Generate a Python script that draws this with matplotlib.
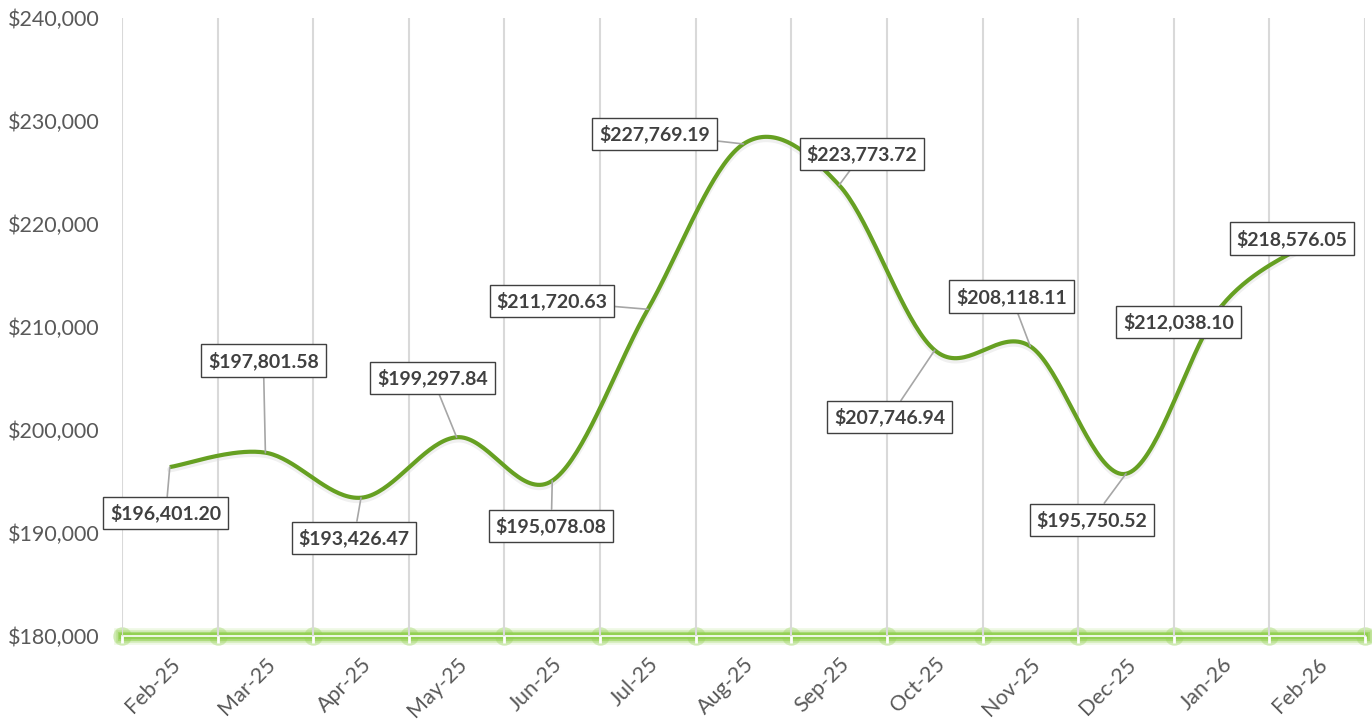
import numpy as np
import matplotlib.pyplot as plt
from matplotlib.ticker import FuncFormatter, FixedLocator

months = ["Feb-25", "Mar-25", "Apr-25", "May-25", "Jun-25", "Jul-25", "Aug-25",
          "Sep-25", "Oct-25", "Nov-25", "Dec-25", "Jan-26", "Feb-26"]
values = [196401.20, 197801.58, 193426.47, 199297.84, 195078.08, 211720.63, 227769.19,
          223773.72, 207746.94, 208118.11, 195750.52, 212038.10, 218576.05]
# label box offsets (pixels) from each point
label_offsets = [(-4, -46), (-2, 92), (-7, -40), (-24, 59), (-1, -45), (-96, 8), (-89, 10),
                 (23, 31), (-45, -67), (-19, 50), (-34, -46), (-43, -16), (-25, 0)]

plt.rcParams["font.family"] = ["Lato", "DejaVu Sans"]

x = np.arange(len(values), dtype=float)
y = np.array(values)


def smooth(x, y, n=40):
    # excel-like smoothed line (catmull-rom bezier)
    px = np.concatenate([[x[0]], x, [x[-1]]])
    py = np.concatenate([[y[0]], y, [y[-1]]])
    xs, ys = [], []
    t = np.linspace(0, 1, n)
    for i in range(1, len(px) - 2):
        p0 = np.array([px[i], py[i]])
        p3 = np.array([px[i + 1], py[i + 1]])
        p1 = p0 + (np.array([px[i + 1], py[i + 1]]) - np.array([px[i - 1], py[i - 1]])) / 6
        p2 = p3 - (np.array([px[i + 2], py[i + 2]]) - np.array([px[i], py[i]])) / 6
        b = ((1 - t) ** 3)[:, None] * p0 + (3 * (1 - t) ** 2 * t)[:, None] * p1 \
            + (3 * (1 - t) * t ** 2)[:, None] * p2 + (t ** 3)[:, None] * p3
        xs.append(b[:, 0])
        ys.append(b[:, 1])
    return np.concatenate(xs), np.concatenate(ys)


fig = plt.figure(figsize=(13.72, 7.19), dpi=100)
ax = fig.add_axes([0.0889, 0.1154, 0.906, 0.8596])

sx, sy = smooth(x, y)
ax.plot(sx, sy - 250, color="#000000", lw=4, alpha=0.06, solid_capstyle="round", zorder=3)
ax.plot(sx, sy, color="#66A022", lw=3, solid_capstyle="butt", zorder=4)

ax.set_xlim(-0.5, len(values) - 0.5)
ax.set_ylim(180000, 240000)

bounds = np.arange(len(values) + 1) - 0.5
ax.xaxis.set_major_locator(FixedLocator(bounds))
ax.xaxis.set_minor_locator(FixedLocator(x))
ax.set_xticklabels([""] * len(bounds))
ax.set_xticklabels(months, minor=True, rotation=45, ha="right", va="top",
                   rotation_mode="anchor", fontsize=15.5, color="#595959")
ax.tick_params(axis="x", which="minor", length=0, pad=13)
ax.tick_params(axis="x", which="major", length=5, width=2, color="white", direction="out")
ax.grid(axis="x", which="major", color="#d9d9d9", lw=1.5)

ax.set_yticks(np.arange(180000, 240001, 10000))
ax.yaxis.set_major_formatter(FuncFormatter(lambda v, p: f"${v:,.0f}"))
ax.tick_params(axis="y", length=0, pad=16, labelsize=15.5, labelcolor="#595959")

for s in ax.spines.values():
    s.set_visible(False)

# glowing x axis line
for lw, a in [(12, 0.15), (9, 0.3), (6.5, 0.55), (4.5, 0.9)]:
    ax.axhline(180000, color="#92D050", lw=lw, alpha=a, clip_on=False, zorder=1)
ax.scatter(bounds, [180000] * len(bounds), s=180, color="#92D050", alpha=0.35,
           clip_on=False, zorder=1, lw=0)
ax.axhline(180000, color="white", lw=1.2, clip_on=False, zorder=1.2)
ax.xaxis.set_zorder(3)

for xi, yi, (dx, dy) in zip(x, y, label_offsets):
    ax.annotate(f"${yi:,.2f}", xy=(xi, yi), xytext=(dx, dy), textcoords="offset pixels",
                ha="center", va="center", fontsize=14, fontweight="bold", color="#404040",
                bbox=dict(boxstyle="square,pad=0.35", fc="white", ec="#404040", lw=1),
                arrowprops=dict(arrowstyle="-", color="#a6a6a6", lw=1.2, shrinkA=0, shrinkB=0),
                zorder=5)

plt.savefig("out.png", dpi=100)
